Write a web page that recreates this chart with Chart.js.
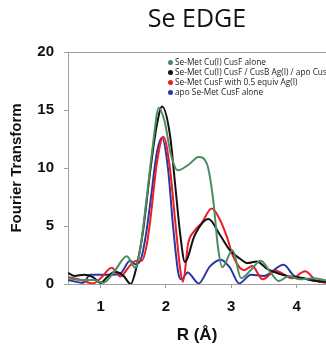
<!DOCTYPE html>
<html>
<head>
<meta charset="utf-8">
<script src="https://cdn.jsdelivr.net/npm/chart.js@4"></script>
<style>
  html, body { margin: 0; padding: 0; background: #fff; }
  #wrap { position: relative; width: 326px; height: 346px; overflow: hidden; }
  #legend { position: absolute; left: 168px; top: 57px; font: 8.3px "Open Sans", sans-serif; color: #222; white-space: nowrap; }
  #legend div { height: 10px; line-height: 10px; }
  #legend span { display: inline-block; width: 5px; height: 5px; border-radius: 50%; margin-right: 2px; vertical-align: 0px; }
</style>
</head>
<body>
<div id="wrap">
  <canvas id="feChart" width="326" height="346"></canvas>
  <div id="legend"></div>
</div>
<script>
// Se EDGE Fourier transform
const seriesNames = ['Se-Met Cu(I) CusF alone', 'Se-Met Cu(I) CusF / CusB Ag(I) / apo CusA', 'Se-Met CusF with 0.5 equiv Ag(I)', 'apo Se-Met CusF alone'];
const seriesColors = ['#4b8c60', '#111111', '#ee1c25', '#2b36a3'];

const rGreen = [0.5, 0.7, 0.9, 1.04, 1.2, 1.4, 1.53, 1.6, 1.7, 1.8, 1.89, 1.98, 2.07, 2.18, 2.35, 2.5, 2.63, 2.72, 2.8, 2.86, 3.02, 3.15, 3.3, 3.45, 3.6, 3.73, 3.88, 4.05, 4.25, 4.45];
const ftGreen = [0.5, 0.35, 0.35, 0.1, 1.0, 2.4, 1.4, 2.8, 7.2, 12.0, 15.2, 14.0, 11.3, 9.8, 10.3, 10.95, 10.3, 7.4, 3.0, 1.45, 2.9, 0.5, 1.2, 2.0, 1.0, 0.25, 0.7, 0.4, 0.5, 0.3];

const rBlack = [0.5, 0.6, 0.75, 0.88, 1.0, 1.1, 1.22, 1.35, 1.46, 1.55, 1.6, 1.65, 1.76, 1.86, 1.94, 2.06, 2.14, 2.22, 2.29, 2.44, 2.65, 2.83, 2.98, 3.13, 3.25, 3.39, 3.55, 3.7, 3.85, 4.1, 4.3, 4.45];
const ftBlack = [0.95, 0.7, 0.8, 0.6, 0.1, 0.6, 1.05, 0.7, 0.0, 1.5, 2.9, 4.6, 9.8, 13.7, 15.3, 12.9, 8.6, 4.2, 1.9, 4.2, 5.6, 4.2, 2.9, 2.2, 1.8, 1.95, 1.3, 0.95, 0.7, 0.5, 0.25, 0.2];

const rRed = [0.5, 0.7, 0.88, 1.0, 1.17, 1.3, 1.45, 1.55, 1.63, 1.7, 1.76, 1.86, 1.96, 2.06, 2.14, 2.22, 2.26, 2.34, 2.44, 2.55, 2.7, 2.83, 2.93, 3.03, 3.13, 3.2, 3.32, 3.48, 3.68, 3.93, 4.13, 4.3, 4.45];
const ftRed = [0.6, 0.35, 0.05, 0.5, 1.4, 0.65, 1.6, 2.0, 2.0, 3.2, 5.5, 10.4, 12.7, 10.0, 5.5, 1.2, 0.2, 3.5, 4.6, 5.3, 6.5, 5.5, 4.1, 2.35, 1.4, 1.2, 1.55, 0.4, 1.15, 0.5, 1.1, 0.3, 0.15];

const rBlue = [0.5, 0.73, 0.84, 1.0, 1.15, 1.3, 1.45, 1.53, 1.62, 1.7, 1.76, 1.86, 1.94, 2.03, 2.11, 2.19, 2.24, 2.33, 2.5, 2.67, 2.84, 2.98, 3.12, 3.3, 3.5, 3.8, 3.96, 4.1, 4.3, 4.45];
const ftBlue = [0.35, 0.1, 0.8, 0.8, 0.8, 0.9, 2.0, 1.7, 2.2, 4.5, 7.0, 11.3, 12.6, 10.0, 4.9, 0.9, 0.4, 1.0, 0.05, 1.5, 2.1, 1.4, 0.05, 0.8, 0.7, 1.65, 0.7, 0.5, 0.25, 0.1];

const xTicks = [1, 2, 3, 4];
const yTicks = [0, 5, 10, 15, 20];

const rSets = [rGreen, rBlack, rRed, rBlue];
const ftSets = [ftGreen, ftBlack, ftRed, ftBlue];

const datasets = seriesNames.map(function(name, i) {
  return {
    label: name,
    data: rSets[i].map((r, j) => ({ x: r, y: ftSets[i][j] })),
    borderColor: seriesColors[i],
    borderWidth: 2,
    pointRadius: 0,
    fill: false,
    cubicInterpolationMode: 'monotone'
  };
});

// frame line along the top of the plot area
const topFrame = {
  id: 'topFrame',
  afterDraw(chart) {
    const { ctx, chartArea } = chart;
    ctx.save();
    ctx.strokeStyle = '#a0a0a0';
    ctx.lineWidth = 1;
    ctx.beginPath();
    ctx.moveTo(chartArea.left, chartArea.top + 0.5);
    ctx.lineTo(chartArea.right, chartArea.top + 0.5);
    ctx.stroke();
    ctx.restore();
  }
};

const axisFont = { family: 'Liberation Sans, Arial, sans-serif', weight: 'bold' };

const feChart = new Chart(document.getElementById('feChart').getContext('2d'), {
  type: 'line',
  data: { datasets: datasets },
  plugins: [topFrame],
  options: {
    responsive: false,
    animation: false,
    layout: { padding: { left: 0, right: 0, top: 0, bottom: 0 } },
    plugins: {
      legend: { display: false },
      tooltip: { enabled: false },
      title: {
        display: true,
        fullSize: false,
        text: 'Se EDGE',
        color: '#111',
        font: { family: 'Open Sans, sans-serif', size: 25, weight: 'normal' },
        padding: { top: 5, bottom: 17 }
      }
    },
    scales: {
      x: {
        type: 'linear',
        min: 0.5,
        max: 4.45,
        afterBuildTicks: s => { s.ticks = xTicks.map(v => ({ value: v })); },
        afterFit: s => { s.height = 62; },
        grid: { display: true, drawOnChartArea: false, drawTicks: true, tickLength: 4, color: '#a0a0a0' },
        border: { color: '#a0a0a0', width: 1 },
        ticks: { color: '#111', padding: 10, font: Object.assign({ size: 15 }, axisFont) },
        title: { display: true, text: 'R (Å)', color: '#111', padding: { top: 0, bottom: 0 }, font: Object.assign({ size: 17 }, axisFont) }
      },
      y: {
        min: 0,
        max: 20,
        afterBuildTicks: s => { s.ticks = yTicks.map(v => ({ value: v })); },
        afterFit: s => { s.width = 68; },
        grid: { display: true, drawOnChartArea: false, drawTicks: true, tickLength: 4, color: '#a0a0a0' },
        border: { color: '#a0a0a0', width: 1 },
        ticks: { color: '#111', padding: 10, font: Object.assign({ size: 15 }, axisFont) },
        title: { display: true, text: 'Fourier Transform', color: '#111', padding: { top: 8, bottom: 0 }, font: Object.assign({ size: 15 }, axisFont) }
      }
    }
  }
});

// legend inside the plot, built from the dataset labels
const legendEl = document.getElementById('legend');
seriesNames.forEach(function(name, i) {
  const row = document.createElement('div');
  const dot = document.createElement('span');
  dot.style.background = seriesColors[i];
  row.appendChild(dot);
  row.appendChild(document.createTextNode(name));
  legendEl.appendChild(row);
});
</script>
</body>
</html>
